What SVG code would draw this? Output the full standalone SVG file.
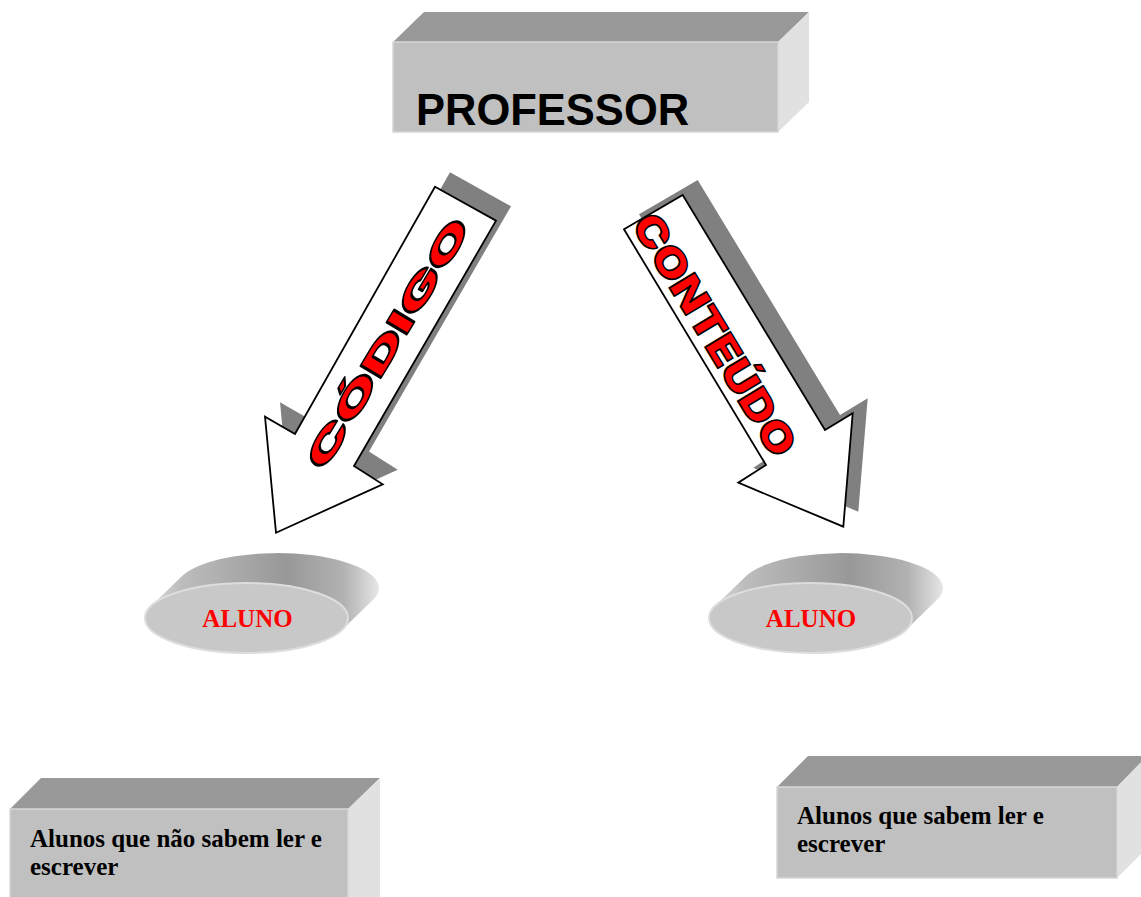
<svg xmlns="http://www.w3.org/2000/svg" width="1141" height="897" viewBox="0 0 1141 897">
<style>
.top{fill:#999999}
.front{fill:#c0c0c0;stroke:#d6d6d6;stroke-width:1.5}
.side{fill:#e1e1e1}
.boxtxt{font-family:"Liberation Serif","Times New Roman",serif;font-weight:bold;font-size:25px;fill:#000}
.aluno{font-family:"Liberation Serif","Times New Roman",serif;font-weight:bold;font-size:25px;fill:#ff0000}
.disc-front{fill:#c8c8c8;stroke:#dddddd;stroke-width:2}
.shadow{fill:#808080}
.arrow{fill:#ffffff;stroke:#000;stroke-width:1.8;stroke-linejoin:miter}
.word{font-family:Inter,Lato,"Noto Sans","DejaVu Sans",sans-serif;font-weight:900;fill:#ff0000;stroke:#000;stroke-width:1.5;stroke-linejoin:round}
</style>
<defs>
<linearGradient id="discGrad" x1="0" y1="0" x2="1" y2="0">
<stop offset="0" stop-color="#dcdcdc"/>
<stop offset="0.15" stop-color="#bdbdbd"/>
<stop offset="0.6" stop-color="#989898"/>
<stop offset="0.85" stop-color="#b2b2b2"/>
<stop offset="1" stop-color="#e6e6e6"/>
</linearGradient>
</defs>
<rect width="1141" height="897" fill="#ffffff"/>

<g id="connectors">
<g id="arrow-codigo">
<polygon class="shadow" points="450,172.2 511,206.2 369,451.5 397.7,469.8 291,518.2 280,402.2 310,419.5"/>
<polygon class="arrow" points="435,186.7 496,220.7 354,466 382.7,484.3 276,532.7 265,416.7 295,434"/>
<text class="word" transform="translate(387.6,343.5) rotate(-59)" x="0" y="12" font-size="33" text-anchor="middle" textLength="286" lengthAdjust="spacingAndGlyphs">CÓDIGO</text>
</g>
<g id="arrow-conteudo">
<polygon class="shadow" points="639,214.3 697.7,180 840,415 867.7,398.3 858.3,511.7 753.3,467.7 781,450"/>
<polygon class="arrow" points="624,229.3 682.7,195 825,430 852.7,413.3 843.3,526.7 738.3,482.7 766,465"/>
<text class="word" transform="translate(714.8,334.4) rotate(58.8)" x="0" y="15" font-size="41" text-anchor="middle" textLength="276" lengthAdjust="spacingAndGlyphs">CONTEÚDO</text>
</g>
</g>

<g id="professor">
<polygon class="top" points="393,42 424,12 809,12 778,42"/>
<polygon class="side" points="778,42 809,12 809,102 778,132"/>
<rect class="front" x="393" y="42" width="385" height="90"/>
<text x="416" y="125" font-family="'Liberation Sans',Arial,sans-serif" font-weight="bold" font-size="43.5" fill="#000">PROFESSOR</text>
</g>

<g id="aluno-left">
<path fill="url(#discGrad)" d="M150.9,606.3 L182.9,575.3 A101.5,35 0 0 1 374.1,598.7 L342.1,629.7 A101.5,35 0 0 1 150.9,606.3 Z"/>
<ellipse class="disc-front" cx="246.5" cy="618" rx="101.5" ry="35"/>
<text class="aluno" x="247.5" y="627" text-anchor="middle">ALUNO</text>
</g>

<g id="aluno-right">
<path fill="url(#discGrad)" d="M714.9,606.3 L746.9,575.3 A101.5,35 0 0 1 938.1,598.7 L906.1,629.7 A101.5,35 0 0 1 714.9,606.3 Z"/>
<ellipse class="disc-front" cx="810.5" cy="618" rx="101.5" ry="35"/>
<text class="aluno" x="811" y="627" text-anchor="middle">ALUNO</text>
</g>

<g id="box-nao-sabem">
<polygon class="top" points="10,809 41,778 380,778 348,809"/>
<polygon class="side" points="348,809 380,778 380,900 348,900"/>
<rect class="front" x="10" y="809" width="338" height="95"/>
<text class="boxtxt" x="30" y="846.5">Alunos que não sabem ler e</text>
<text class="boxtxt" x="30" y="875">escrever</text>
</g>

<g id="box-sabem">
<polygon class="top" points="777,787 808,756 1147,756 1117,787"/>
<polygon class="side" points="1117,787 1147,756 1147,848 1117,878"/>
<rect class="front" x="777" y="787" width="340" height="91"/>
<text class="boxtxt" x="797" y="823.5">Alunos que sabem ler e</text>
<text class="boxtxt" x="797" y="852">escrever</text>
</g>
</svg>
